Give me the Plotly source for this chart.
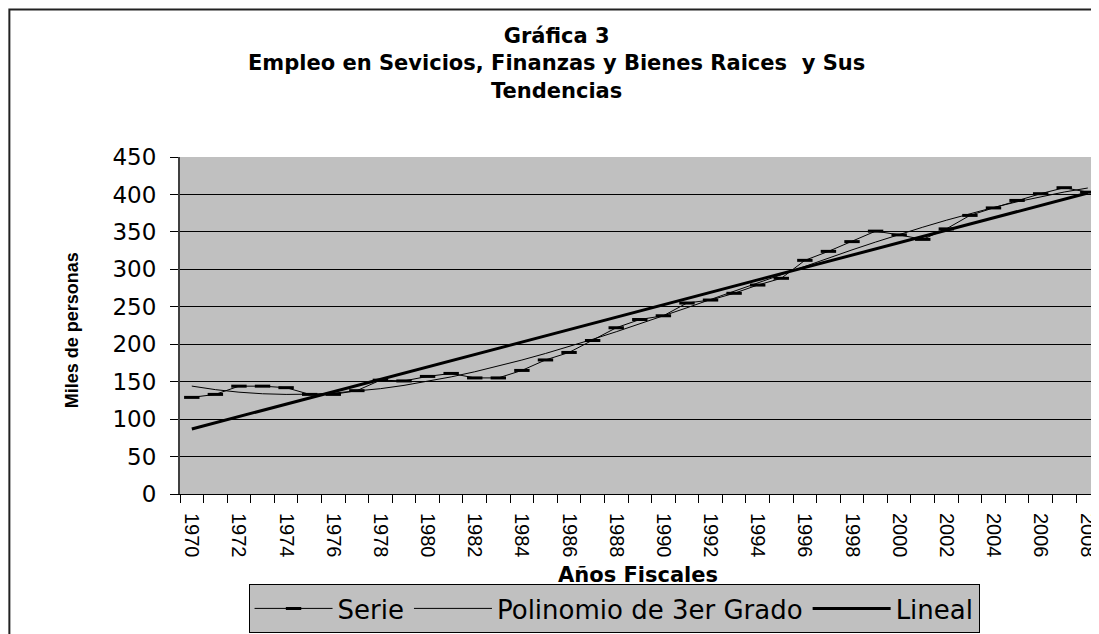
import numpy as np
import plotly.graph_objects as go

years = list(range(1970, 2009))
serie = [129, 133, 144, 144, 142, 133, 133, 138, 152, 151, 157, 161, 155, 155,
         165, 179, 189, 205, 222, 233, 238, 255, 259, 268, 279, 288, 312, 324,
         337, 351, 346, 340, 354, 372, 382, 392, 401, 409, 403]
label_years = list(range(1970, 2009, 2))
label_text = [str(y) for y in label_years]
title_lines = ["Gráfica 3",
               "Empleo en Sevicios, Finanzas y Bienes Raices  y Sus",
               "Tendencias"]

# Excel-style trend lines computed from the series
idx = np.arange(1, len(years) + 1)
poly3 = np.polyval(np.polyfit(idx, serie, 3), idx)
lineal = np.polyval(np.polyfit(idx, serie, 1), idx)

# the page body has an 8px margin; figure is sized so that it ends at the window edge
OFF = 8
W, H = 1099 - OFF, 634 - OFF
PL, PT, PB = 180, 157, 494          # plot area in window pixels
L, T = PL - OFF, PT - OFF
B = H - (PB - OFF)
pw, ph = W - L, PB - PT


def px(x):
    return (x - PL) / pw


def py(y):
    return (PB - y) / ph


fig = go.Figure()
fig.add_trace(go.Scatter(x=years, y=serie, name="Serie", mode="lines+markers",
                         line=dict(color="black", width=1),
                         marker=dict(symbol="line-ew", size=11,
                                     line=dict(color="black", width=3))))
fig.add_trace(go.Scatter(x=years, y=poly3, name="Polinomio de 3er Grado", mode="lines",
                         line=dict(color="black", width=1)))
fig.add_trace(go.Scatter(x=years, y=lineal, name="Lineal", mode="lines",
                         line=dict(color="black", width=3)))

fig.update_layout(
    width=W, height=H,
    margin=dict(l=L, r=0, t=T, b=B, pad=0),
    paper_bgcolor="white", plot_bgcolor="#C0C0C0",
    font=dict(family="DejaVu Sans, sans-serif", color="black"),
    showlegend=True,
    legend=dict(orientation="h", x=px(615), xanchor="center", y=py(584), yanchor="top",
                bgcolor="#C0C0C0", bordercolor="black", borderwidth=1,
                font=dict(family="DejaVu Sans, sans-serif", size=26, color="black"),
                itemwidth=78, tracegroupgap=0),
)

fig.update_xaxes(range=[1969.5, 2008.39], tickmode="array", tickvals=label_years, ticktext=label_text,
                 tickangle=90, ticks="", showgrid=False, zeroline=False,
                 showline=True, linecolor="black", linewidth=1,
                 tickfont=dict(family="Liberation Sans, Arial, sans-serif", size=20, color="black"),
                 ticklabelstandoff=14, ticklabeloverflow="allow",
                 minor=dict(tickmode="array", tickvals=[1969.5 + i for i in range(40)],
                            ticks="outside", ticklen=8, tickcolor="black", tickwidth=1, showgrid=False))
fig.update_yaxes(range=[0, 450], dtick=50, tick0=0, showgrid=True, gridcolor="black", gridwidth=1,
                 zeroline=False, showline=True, linecolor="#404040", linewidth=2,
                 ticks="outside", ticklen=8, tickcolor="black",
                 tickfont=dict(family="DejaVu Sans, sans-serif", size=23, color="black"),
                 ticklabelstandoff=9)

fig.add_annotation(text="<b>" + "<br>".join(title_lines) + "</b>", xref="paper", yref="paper",
                   x=px(557), y=py(64), xanchor="center", yanchor="middle", showarrow=False,
                   font=dict(family="DejaVu Sans, sans-serif", size=21, color="black"))

fig.add_annotation(text="<b>Años Fiscales</b>", xref="paper", yref="paper", x=px(639), y=py(575),
                   xanchor="center", yanchor="middle", showarrow=False,
                   font=dict(family="DejaVu Sans, sans-serif", size=21, color="black"))
fig.add_annotation(text="<b>Miles de personas</b>", xref="paper", yref="paper", x=px(72), y=py(330),
                   xanchor="center", yanchor="middle", showarrow=False, textangle=-90,
                   font=dict(family="Liberation Sans, Arial, sans-serif", size=18, color="black"))

# chart-area frame
fig.add_shape(type="rect", xref="paper", yref="paper", x0=px(9), x1=px(1120), y0=py(660), y1=py(9.5),
              line=dict(color="#222222", width=2), fillcolor="rgba(0,0,0,0)", layer="above")

fig.write_html("out.html")
